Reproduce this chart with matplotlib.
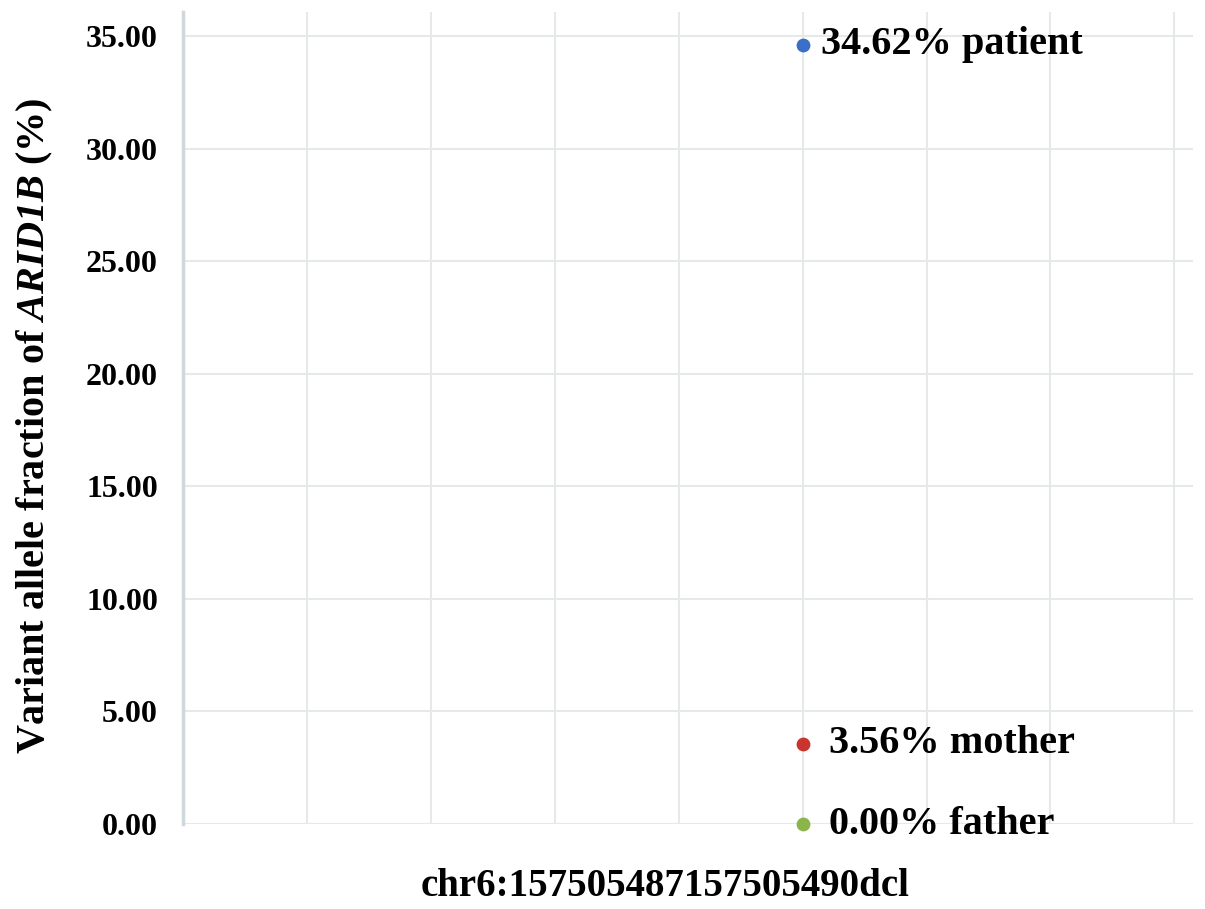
import matplotlib
matplotlib.use("Agg")
import matplotlib.pyplot as plt

matplotlib.rcParams['font.family'] = 'Liberation Serif'
matplotlib.rcParams['font.weight'] = 'bold'
matplotlib.rcParams['mathtext.fontset'] = 'custom'
matplotlib.rcParams['mathtext.it'] = 'Liberation Serif:italic:bold'
matplotlib.rcParams['mathtext.rm'] = 'Liberation Serif:italic:bold'

samples = ["patient", "mother", "father"]
vaf = [34.62, 3.56, 0.00]
colors = ["#3a6fc9", "#c8342e", "#8bb54a"]
x_pos = 5
y_ticks = [0, 5, 10, 15, 20, 25, 30, 35]

fig = plt.figure(figsize=(12.05, 9.09), dpi=100)
ax = fig.add_axes([183/1205, 1 - 824/909, (1193 - 183)/1205, (824 - 12)/909])

for name, v, c in zip(samples, vaf, colors):
    ax.scatter([x_pos], [v], s=80, color=c, zorder=3, clip_on=False)
    dx = 13 if v > 10 else 19
    ax.annotate(f"{v:.2f}% {name}", (x_pos, v), xytext=(dx, 0),
                textcoords="offset points", va="center", ha="left",
                fontsize=29, fontweight="bold")

ax.set_xlim(0, 8.15)
ax.set_ylim(0, 36.07)
ax.set_xticks(range(1, 9))
ax.set_xticklabels([])
ax.set_yticks(y_ticks)
ax.set_yticklabels([f"{t:.2f}" for t in y_ticks], fontsize=23, fontweight="bold")
ax.tick_params(length=0, pad=18)
ax.grid(True, color="#e6e8ea", linewidth=1.5)
ax.set_axisbelow(True)

for s in ["top", "right", "bottom"]:
    ax.spines[s].set_visible(False)
ax.spines["left"].set_color("#cfd8dc")
ax.spines["left"].set_linewidth(2.5)

ax.set_ylabel("Variant allele fraction of $\\mathit{ARID1B}$ (%)", fontsize=29,
              fontweight="bold")
ax.yaxis.set_label_coords(-0.127, 0.49)
ax.set_xlabel("chr6:157505487157505490dcl", fontsize=28, fontweight="bold")
ax.xaxis.set_label_coords(0.477, -0.054)

fig.savefig("out.png", dpi=100)
